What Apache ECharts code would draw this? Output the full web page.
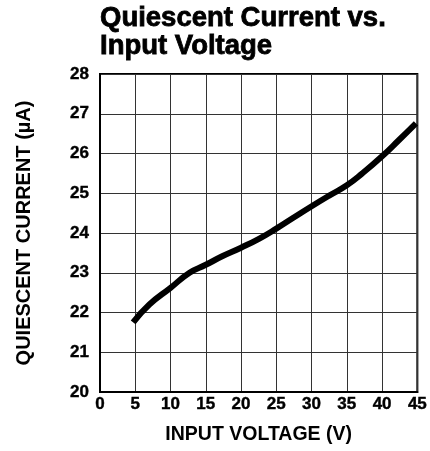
<!DOCTYPE html>
<html>
<head>
<meta charset="utf-8">
<script src="https://cdn.jsdelivr.net/npm/echarts@6/dist/echarts.min.js"></script>
<style>
html,body{margin:0;padding:0;background:#fff;}
#chart{width:430px;height:451px;}
</style>
</head>
<body>
<div id="chart"></div>
<script>
var titleText = "Quiescent Current vs.\nInput Voltage";
var xAxisName = "INPUT VOLTAGE (V)";
var yAxisName = "QUIESCENT CURRENT (µA)";
var voltage = [4.7, 7, 10, 12.7, 15, 17.4, 20, 22.6, 25, 27.3, 29.9, 32.5, 35, 37.2, 40, 42.4, 44.8];
var current = [21.75, 22.2, 22.62, 23.0, 23.2, 23.42, 23.63, 23.86, 24.11, 24.37, 24.66, 24.94, 25.2, 25.5, 25.93, 26.34, 26.76];

var FONT = '"Liberation Sans", Arial, Helvetica, sans-serif';
var data = voltage.map(function (v, i) { return [v, current[i]]; });

var chart = echarts.init(document.getElementById('chart'), null, {renderer: 'canvas'});
chart.setOption({
  animation: false,
  backgroundColor: '#fff',
  title: {
    text: titleText,
    left: 100,
    top: 4,
    padding: 0,
    textStyle: {fontFamily: FONT, fontWeight: 'bold', fontSize: 27.5, lineHeight: 28, color: '#000',
      textBorderColor: '#000', textBorderWidth: 0.8}
  },
  grid: {left: 100, right: 12, top: 74, bottom: 59, show: true, borderColor: '#000', borderWidth: 2, containLabel: false},
  xAxis: {
    type: 'value', min: 0, max: 45, interval: 5,
    name: xAxisName, nameLocation: 'middle', nameGap: 33,
    nameTextStyle: {fontFamily: FONT, fontWeight: 'bold', fontSize: 19.5, color: '#000'},
    axisLine: {show: true, lineStyle: {color: '#000', width: 2}},
    axisTick: {show: false},
    axisLabel: {fontFamily: FONT, fontWeight: 'bold', fontSize: 17, color: '#000', margin: 4,
      textBorderColor: '#000', textBorderWidth: 0.4},
    splitLine: {show: true, lineStyle: {color: '#333', width: 1}}
  },
  yAxis: {
    type: 'value', min: 20, max: 28, interval: 1,
    name: yAxisName, nameLocation: 'middle', nameGap: 66, nameRotate: 90,
    nameTextStyle: {fontFamily: FONT, fontWeight: 'bold', fontSize: 20, color: '#000'},
    axisLine: {show: true, lineStyle: {color: '#000', width: 2}},
    axisTick: {show: false},
    axisLabel: {fontFamily: FONT, fontWeight: 'bold', fontSize: 17, color: '#000', margin: 11,
      textBorderColor: '#000', textBorderWidth: 0.4},
    splitLine: {show: true, lineStyle: {color: '#333', width: 1}}
  },
  series: [{
    type: 'line',
    data: data,
    smooth: true,
    showSymbol: false,
    symbol: 'none',
    lineStyle: {color: '#000', width: 6, cap: 'butt'}
  }]
});
</script>
</body>
</html>
